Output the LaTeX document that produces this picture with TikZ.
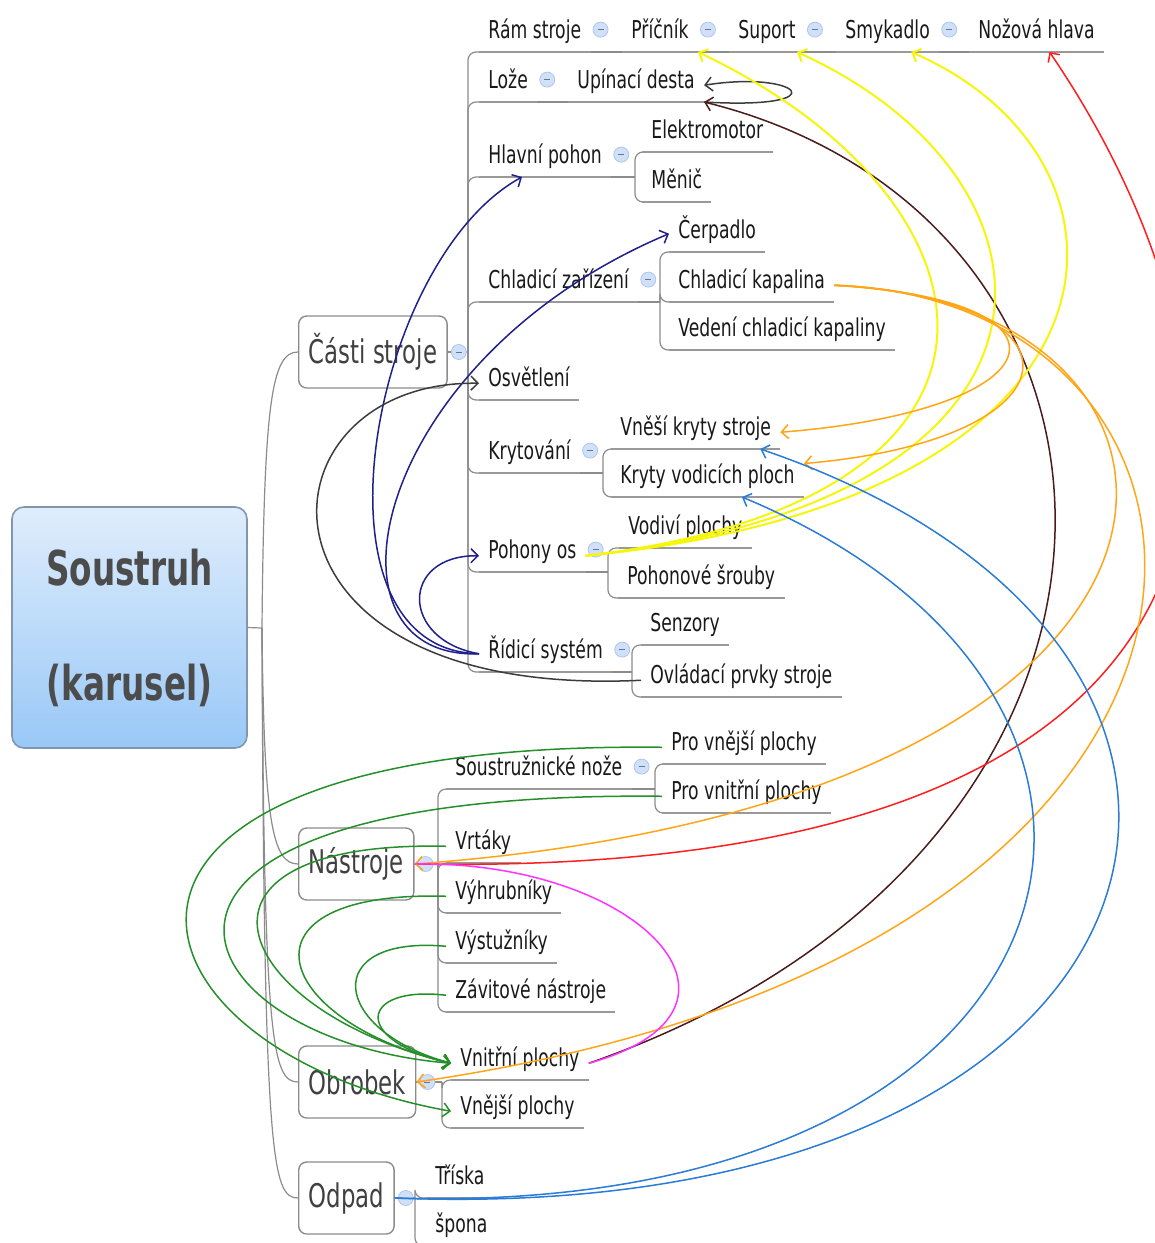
\documentclass[tikz,border=0pt]{standalone}
\usepackage{fontspec}
\setmainfont{DejaVu Sans}[FakeStretch=0.70]
\newfontfamily\rootfont{DejaVu Sans}[FakeStretch=0.68]
\usetikzlibrary{arrows.meta,calc}

\definecolor{rootTop}{HTML}{DFEDFC}
\definecolor{rootBot}{HTML}{99C8F7}
\definecolor{rootEdge}{HTML}{8297AE}
\definecolor{btnFill}{HTML}{CFE0F8}
\definecolor{btnEdge}{HTML}{AFC6EC}
\definecolor{navyl}{HTML}{20208C}
\definecolor{grayl}{HTML}{3C3C3C}
\definecolor{brownl}{HTML}{4A1C1C}
\definecolor{yellowl}{HTML}{F6F60A}
\definecolor{redl}{HTML}{FF1E1E}
\definecolor{orangel}{HTML}{FFA516}
\definecolor{magl}{HTML}{FF33FF}
\definecolor{greenl}{HTML}{25902A}
\definecolor{bluel}{HTML}{2A7CD6}

\begin{document}
\begin{tikzpicture}[x=0.5pt, y=-0.5pt,
  rootbox/.style={draw=rootEdge, line width=0.8pt, rounded corners=6pt,
    top color=rootTop, bottom color=rootBot, minimum width=117.5pt,
    minimum height=120.5pt, align=center, text=black!70,
    font=\rootfont\bfseries\fontsize{24}{57.5}\selectfont},
  main/.style={draw=black!45, line width=0.7pt, rounded corners=4pt, fill=white,
    anchor=west, minimum height=36pt, inner xsep=5pt, text=black!75,
    font=\fontsize{16.3}{18}\selectfont},
  sub/.style={anchor=south west, inner xsep=4.5pt, inner ysep=0pt,
    text depth=6.5pt, text=black!90, font=\fontsize{12.3}{14}\selectfont},
  branch/.style={draw=black!45, line width=0.6pt, rounded corners=4pt},
  uline/.style={draw=black!40, line width=1.2pt},
  btn/.style={circle, minimum size=7.5pt, inner sep=0pt, fill=btnFill,
    draw=btnEdge, line width=0.4pt,
    path picture={\draw[btnEdge!60!black, line width=0.5pt]
      ([xshift=-1.5pt]path picture bounding box.center) --
      ([xshift=1.5pt]path picture bounding box.center);}},
  link/.style={line width=0.75pt, -{Straight Barb[length=3.5pt,width=7pt]}}]

  \fill[white] (0,0) rectangle (1155,1243);
  \useasboundingbox (0,0) rectangle (1155,1243);

  \node[rootbox] (root) at (129.5,627.5) {Soustruh\\(karusel)};
  \node[main] (cs) at (298,352) {Části stroje};
  \node[main] (na) at (298,864) {Nástroje};
  \node[main] (ob) at (298,1082) {Obrobek};
  \node[main] (od) at (298,1198) {Odpad};

  \node[sub] (rs) at (479,52) {Rám stroje};
  \node[sub] (pr) at (622,52) {Příčník};
  \node[sub] (sp) at (729,52) {Suport};
  \node[sub] (sm) at (836,52) {Smykadlo};
  \node[sub] (nh) at (969,52) {Nožová hlava};
  \node[sub] (loz) at (479,102) {Lože};
  \node[sub] (up) at (568,102) {Upínací desta};
  \node[sub] (hp) at (479,177) {Hlavní pohon};
  \node[sub] (el) at (642,152) {Elektromotor};
  \node[sub] (me) at (642,202) {Měnič};
  \node[sub] (cz) at (479,302) {Chladicí zařízení};
  \node[sub] (ce) at (669,252) {Čerpadlo};
  \node[sub] (ck) at (669,302) {Chladicí kapalina};
  \node[sub] (vc) at (669,350) {Vedení chladicí kapaliny};
  \node[sub] (os) at (479,400) {Osvětlení};
  \node[sub] (kr) at (479,473) {Krytování};
  \node[sub] (vk) at (611,449) {Vněší kryty stroje};
  \node[sub] (kv) at (611,497) {Kryty vodicích ploch};
  \node[sub] (po) at (479,572) {Pohony os};
  \node[sub] (vp) at (619,548) {Vodiví plochy};
  \node[sub] (ps) at (618,598) {Pohonové šrouby};
  \node[sub] (ri) at (479,672) {Řídicí systém};
  \node[sub] (se) at (641,645) {Senzory};
  \node[sub] (ov) at (641,697) {Ovládací prvky stroje};

  \node[sub] (sn) at (446,789) {Soustružnické nože};
  \node[sub] (pv) at (662,764) {Pro vnější plochy};
  \node[sub] (pi) at (662,813) {Pro vnitřní plochy};
  \node[sub] (vr) at (446,863) {Vrtáky};
  \node[sub] (vh) at (446,913) {Výhrubníky};
  \node[sub] (vs) at (446,963) {Výstužníky};
  \node[sub] (zn) at (446,1012) {Závitové nástroje};
  \node[sub] (vn) at (451,1080) {Vnitřní plochy};
  \node[sub] (vj) at (451,1128) {Vnější plochy};
  \node[sub] (tr) at (426,1198) {Tříska};
  \node[sub] (spo) at (426,1246) {špona};

  % tree lines
  \coordinate (rootj) at (262,628);
  \coordinate (csj) at (468,352);
  \coordinate (naj) at (438,864);
  \coordinate (obj) at (442,1082);
  \coordinate (odj) at (415,1198);
  \coordinate (hpj) at (635,177);
  \coordinate (czj) at (660,302);
  \coordinate (krj) at (603,473);
  \coordinate (poj) at (608,572);
  \coordinate (rij) at (632,672);
  \coordinate (snj) at (655,789);

  \draw[branch] (root.east) -- (rootj);
  \foreach \m/\a/\b in {cs/400/352, na/820/864, ob/1040/1082, od/1160/1198}
    \draw[branch] (rootj) .. controls (264,\a) and (272,\b) .. (\m.west);
  \foreach \p/\j in {cs/csj, na/naj, ob/obj, od/odj}
    \draw[branch] (\p.east) -- (\j);
  \foreach \p/\j in {hp/hpj, cz/czj, kr/krj, po/poj, ri/rij, sn/snj}
    \draw[branch] (\p.south east) -- (\j);
  \foreach \j/\c in {csj/rs, csj/loz, csj/hp, csj/cz, csj/os, csj/kr, csj/po, csj/ri,
      hpj/el, hpj/me, czj/ce, czj/ck, czj/vc, krj/vk, krj/kv, poj/vp, poj/ps,
      rij/se, rij/ov, naj/sn, naj/vr, naj/vh, naj/vs, naj/zn, snj/pv, snj/pi,
      obj/vn, obj/vj, odj/tr, odj/spo}
    \draw[branch] (\j) |- (\c.south west);
  \foreach \a/\b in {rs/pr, pr/sp, sp/sm, sm/nh, loz/up}
    \draw[branch] (\a.south east) -- (\b.south west);
  \foreach \n in {rs,pr,sp,sm,nh,loz,up,hp,el,me,cz,ce,ck,vc,os,kr,vk,kv,po,vp,ps,
      ri,se,ov,sn,pv,pi,vr,vh,vs,zn,vn,vj,tr,spo}
    \draw[uline] (\n.south west) -- (\n.south east);

  \foreach \n in {rs,pr,sp,sm,loz,hp,cz,kr,po,ri,sn}
    \node[btn] (b-\n) at ([shift={(10,-9)}]\n.base east) {};
  \foreach \n in {cs,na,ob,od}
    \node[btn] (b-\n) at ([shift={(11,0)}]\n.east) {};

  % relationships
  \draw[link, navyl] (ri.west) .. controls (300,650) and (370,260) .. ($(hp.south west)+(43,0)$);
  \draw[link, navyl] (ri.west) .. controls (310,660) and (370,360) .. (ce.west);
  \draw[link, navyl] (ri.west) .. controls (400,640) and (400,555) .. (po.west);
  \draw[link, grayl] (ov.west) .. controls (230,700) and (250,380) .. (os.west);
  \draw[link, grayl] (up.south east) .. controls (840,110) and (800,70) .. (up.east);
  \draw[link, brownl] (vn.east) .. controls (1200,850) and (1180,220) .. (up.south east);
  \draw[link, yellowl, line width=1pt] (po.east) .. controls (1060,500) and (1010,200) .. (pr.south east);
  \draw[link, yellowl, line width=1pt] (po.east) .. controls (1100,500) and (1080,180) .. ($(sp.south east)+(-8,0)$);
  \draw[link, yellowl, line width=1pt] (po.east) .. controls (1150,500) and (1160,160) .. ($(sm.south east)+(-28,0)$);
  \draw[link, redl] (na.east) .. controls (1350,880) and (1260,360) .. ($(nh.south)+(13,0)$);
  \draw[link, orangel] (ck.east) .. controls (1090,300) and (1060,410) .. (vk.east);
  \draw[link, orangel] (ck.east) .. controls (1100,300) and (1080,440) .. (kv.north east);
  \draw[link, orangel] (ck.east) .. controls (1250,300) and (1280,800) .. (na.east);
  \draw[link, orangel] (ck.east) .. controls (1280,300) and (1330,950) .. (ob.east);
  \draw[link, -, magl] (na.east) .. controls (640,860) and (780,1010) .. (vn.east);
  \draw[link, greenl] (pv.west) .. controls (20,740) and (110,1050) .. (vj.west);
  \draw[link, greenl] (pi.west) .. controls (60,790) and (170,1040) .. (vn.west);
  \draw[link, greenl] (vr.west) .. controls (160,840) and (230,1010) .. (vn.west);
  \draw[link, greenl] (vh.west) .. controls (230,890) and (270,1020) .. (vn.west);
  \draw[link, greenl] (vs.west) .. controls (320,935) and (330,1030) .. (vn.west);
  \draw[link, greenl] (zn.west) .. controls (360,985) and (350,1040) .. (vn.west);
  \draw[link, bluel] (od.east) .. controls (1200,1230) and (1350,650) .. ($(vk.south east)+(-20,0)$);
  \draw[link, bluel] (od.east) .. controls (1100,1220) and (1230,700) .. ($(kv.south east)+(-62,0)$);
\end{tikzpicture}
\end{document}
